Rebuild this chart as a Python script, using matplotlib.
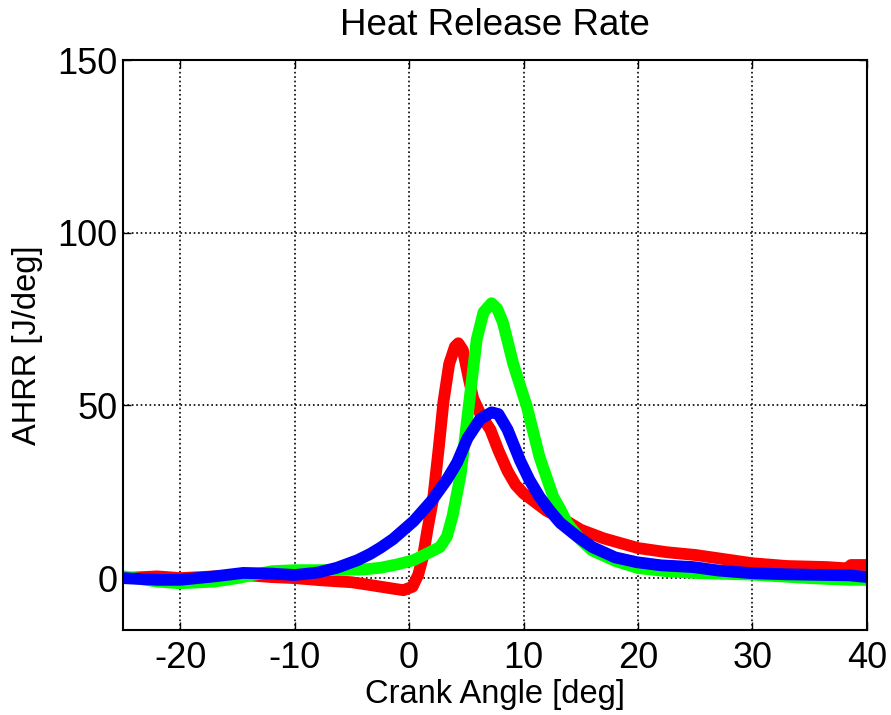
import numpy as np
import matplotlib
matplotlib.use('Agg')
import matplotlib.pyplot as plt

plt.rcParams['font.family'] = ['Liberation Sans', 'DejaVu Sans']
plt.rcParams['axes.unicode_minus'] = False

# crank angle [deg] / AHRR [J/deg]
red_x = [-25, -22, -20, -17, -14, -12, -10, -7.8, -5, -3.4, -1.5, -0.5, 0.3, 0.8, 1.2,
         1.6, 2.1, 2.6, 3.0, 3.5, 4.0, 4.3, 4.7, 5.2, 5.6, 6.3, 7.1, 7.8, 8.6, 9.3,
         10, 11, 12, 13.5, 15, 17, 20, 22.5, 25, 27.5, 30, 33, 36.5, 38.3, 38.6, 40]
red_y = [0, 0.5, 0, 0.5, 0.8, 0.3, 0, -0.6, -1.2, -2, -3, -3.5, -2.5, 1, 6,
         14, 23, 38, 51, 62, 67, 68, 66, 58, 52, 47, 43, 37, 31, 27,
         24.5, 22, 19.5, 17, 14, 11.5, 8.7, 7.5, 6.7, 5.5, 4.3, 3.5, 3.2, 2.8, 3.8, 3.8]

green_x = [-25, -22, -20, -17, -15, -12, -10, -7, -4, -2.5, -1, 0.4, 1.5, 2.7, 3.3,
           3.8, 4.5, 5.2, 5.9, 6.5, 7.2, 7.7, 8.2, 9.1, 10.3, 11.4, 12.6, 13.2, 13.8,
           15, 16, 18, 20, 22.5, 25, 30, 35, 38.5, 40]
green_y = [0.5, -1, -1.5, -1, 0, 2, 2.3, 2.3, 2.5, 3, 4, 5.2, 7, 9, 12,
           18, 30, 49.5, 69, 77, 79.6, 78, 74, 62, 49.5, 35, 23.5, 20, 16,
           11, 8, 5, 2.9, 2, 1.5, 1, 0, -0.5, -0.5]

blue_x = [-25, -22, -20, -17, -14.5, -12, -10, -8, -6.3, -4.5, -3.4, -2.5, -1.4, 0.4,
          2, 3.3, 4.2, 5.1, 6.2, 7.2, 7.8, 8.6, 9.7, 10.5, 11.4, 12.3, 13.2, 14.7,
          16, 18, 19.9, 22, 24.8, 27, 30, 33, 36.5, 38.5, 40]
blue_y = [0, -0.5, -0.5, 0.5, 1.5, 1.3, 0.9, 1.6, 3, 5.2, 7, 8.8, 11.3, 16.5,
          22.5, 28.5, 33.5, 40.5, 46, 48, 47.5, 43, 34, 28.5, 23.5, 19.5, 16, 12,
          9, 6, 4.6, 3.7, 3.2, 2.2, 1.4, 1.1, 0.9, 0.8, 0.3]

xticks = [-20, -10, 0, 10, 20, 30, 40]
yticks = [0, 50, 100, 150]

fig = plt.figure(figsize=(8.91, 7.15), dpi=100)
ax = fig.add_axes([0.138, 0.119, 0.835, 0.797])

lw = 8.5
ax.plot(red_x, red_y, color=(1, 0, 0), lw=lw, solid_capstyle='round', solid_joinstyle='round')
ax.plot(green_x, green_y, color=(0, 1, 0), lw=lw, solid_capstyle='round', solid_joinstyle='round')
ax.plot(blue_x, blue_y, color=(0, 0, 1), lw=lw, solid_capstyle='round', solid_joinstyle='round')

ax.set_xlim(-25, 40)
ax.set_ylim(-15, 150)
ax.set_xticks(xticks)
ax.set_yticks(yticks)
ax.grid(True, color='black', linestyle=':', linewidth=1.2)
ax.set_axisbelow(True)

ax.tick_params(direction='in', length=6, width=1, labelsize=26,
               top=True, right=True, pad=8)
ax.tick_params(axis='y', pad=4)
for s in ax.spines.values():
    s.set_linewidth(1.5)

ax.set_title('Heat Release Rate', fontsize=26.5, pad=18)
ax.set_xlabel('Crank Angle [deg]', fontsize=23.5, labelpad=2)
ax.set_ylabel('AHRR [J/deg]', fontsize=23.5, labelpad=10)

fig.savefig('out.png', dpi=100)
